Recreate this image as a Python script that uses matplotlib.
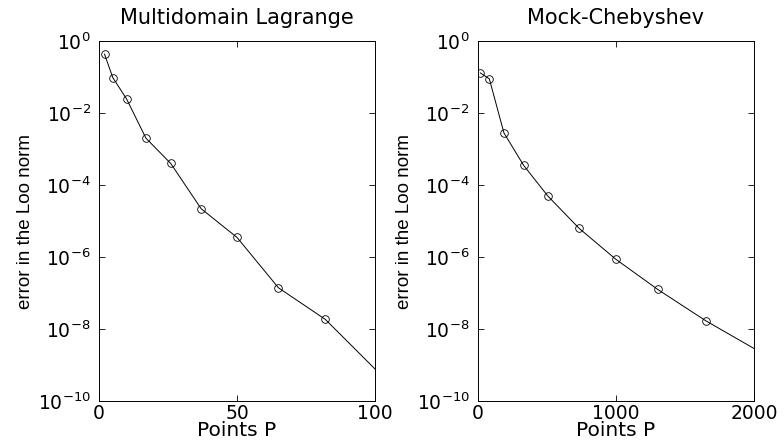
import matplotlib
matplotlib.use("Agg")
import matplotlib.pyplot as plt
from matplotlib.ticker import FixedLocator, LogFormatterMathtext, NullLocator

# multidomain Lagrange: P = n^2 + 1, last point runs past the axis edge
lag_points = [2, 5, 10, 17, 26, 37, 50, 65, 82, 101]
lag_error = [0.43, 0.096, 0.0245, 2.0e-3, 3.96e-4, 2.2e-5, 3.5e-6, 1.4e-7, 1.85e-8, 6.5e-10]

# mock-Chebyshev
cheb_points = [17, 82, 188, 331, 505, 732, 998, 1302, 1650, 2040]
cheb_error = [0.13, 0.089, 2.8e-3, 3.5e-4, 5.0e-5, 6.3e-6, 8.7e-7, 1.26e-7, 1.7e-8, 2.35e-9]

titles = ["Multidomain Lagrange", "Mock-Chebyshev"]
x_limits = [(0, 100), (0, 2000)]
x_ticks = [[0, 50, 100], [0, 1000, 2000]]

plt.rcParams['font.family'] = ['DejaVu Sans']
plt.rcParams['mathtext.fontset'] = 'custom'
plt.rcParams['mathtext.rm'] = 'DejaVu Sans'
plt.rcParams['mathtext.it'] = 'DejaVu Sans'


def draw_panel(ax, x, y, title, xlim, xticks):
    n = len(x) - 1
    ax.plot(x, y, color='black', lw=0.7, marker='o', ms=5.5, mfc='none',
            mec='black', mew=0.6, markevery=list(range(n)), clip_on=True)
    ax.set_yscale('log')
    ax.set_xlim(*xlim)
    ax.set_ylim(1e-10, 1)
    ax.set_xticks(xticks)
    ax.yaxis.set_major_locator(FixedLocator([10.0 ** k for k in range(-10, 1, 2)]))
    ax.yaxis.set_major_formatter(LogFormatterMathtext())
    ax.yaxis.set_minor_locator(NullLocator())
    ax.tick_params(direction='in', length=4, width=0.6, top=True, right=True,
                   labelsize=13.5)
    ax.tick_params(axis='y', pad=6)
    ax.tick_params(axis='x', pad=2)
    for s in ax.spines.values():
        s.set_linewidth(0.7)
    ax.set_title(title, fontsize=15, pad=12)
    ax.set_xlabel("Points P", fontsize=14.5, labelpad=-1)
    ax.set_ylabel("error in the Loo norm", fontsize=13.5, labelpad=3,
                  family=['Liberation Sans'])


fig = plt.figure(figsize=(7.84, 4.43), dpi=100)
ax1 = fig.add_axes([0.1263, 0.0948, 0.352, 0.8126])
ax2 = fig.add_axes([0.6097, 0.0948, 0.352, 0.8126])

draw_panel(ax1, lag_points, lag_error, titles[0], x_limits[0], x_ticks[0])
draw_panel(ax2, cheb_points, cheb_error, titles[1], x_limits[1], x_ticks[1])

fig.savefig("out.png", dpi=100)
